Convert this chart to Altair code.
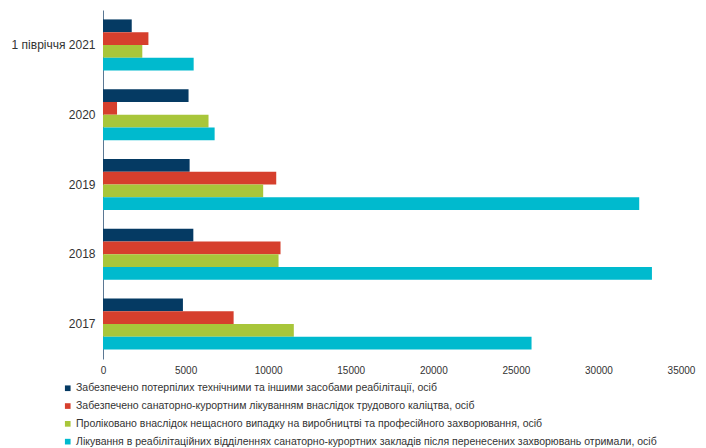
import altair as alt
import pandas as pd

categories = ["1 півріччя 2021", "2020", "2019", "2018", "2017"]
series = [
    "Забезпечено потерпілих технічними та іншими засобами реабілітації, осіб",
    "Забезпечено санаторно-курортним лікуванням внаслідок трудового каліцтва, осіб",
    "Проліковано внаслідок нещасного випадку на виробництві та професійного захворювання, осіб",
    "Лікування в реабілітаційних відділеннях санаторно-курортних закладів після перенесених захворювань отримали, осіб",
]
s1 = [1740, 5180, 5245, 5470, 4840]
s2 = [2750, 850, 10490, 10750, 7910]
s3 = [2380, 6390, 9700, 10630, 11555]
s4 = [5490, 6760, 32470, 33240, 25950]
colors = ["#053A63", "#D63F2D", "#A8C63A", "#00BACE"]
x_ticks = [0, 5000, 10000, 15000, 20000, 25000, 30000, 35000]

rows = []
for vals, name in zip([s1, s2, s3, s4], series):
    for c, v in zip(categories, vals):
        rows.append({"cat": c, "series": name, "value": v})
df = pd.DataFrame(rows)

chart = alt.Chart(df).mark_bar().encode(
    y=alt.Y("cat:N", sort=categories, title=None,
            scale=alt.Scale(paddingInner=0.27, paddingOuter=0.135),
            axis=alt.Axis(ticks=False, domainColor="#5b7894", domainWidth=1,
                          labelFontSize=12, labelColor="#333333", labelPadding=8,
                          labelFont="Liberation Sans")),
    yOffset=alt.YOffset("series:N", sort=series,
                        scale=alt.Scale(paddingInner=0, paddingOuter=0)),
    x=alt.X("value:Q", title=None,
            scale=alt.Scale(domain=[0, 35000], nice=False),
            axis=alt.Axis(values=x_ticks, format="d", grid=False, domain=False, ticks=False,
                          labelFontSize=10, labelColor="#333333", labelPadding=6,
                          labelFont="Liberation Sans", labelFlush=False)),
    color=alt.Color("series:N", sort=series,
                    scale=alt.Scale(domain=series, range=colors),
                    legend=alt.Legend(title=None, orient="none", legendX=-40.5, legendY=373,
                                      symbolType="square", symbolSize=32, symbolStrokeWidth=0,
                                      labelFontSize=10.5, labelFont="Liberation Sans",
                                      labelColor="#333333", labelLimit=0, rowPadding=6.8,
                                      labelOffset=3, direction="vertical")),
).properties(
    width=578, height=349,
    autosize=alt.AutoSizeParams(type="none"),
    padding={"left": 95, "top": 2, "right": 15, "bottom": 89},
).configure_view(stroke=None)

chart.save("out.html", embed_options={"renderer": "svg", "actions": False})
